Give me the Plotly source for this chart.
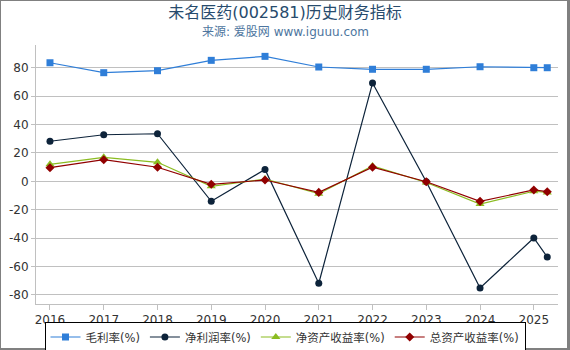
import plotly.graph_objects as go

years = [2016, 2017, 2018, 2019, 2020, 2021, 2022, 2023, 2024, 2025, 2025.25]
tick_years = [2016, 2017, 2018, 2019, 2020, 2021, 2022, 2023, 2024, 2025]
tick_labels = [str(y) for y in tick_years]
y_ticks = [-80, -60, -40, -20, 0, 20, 40, 60, 80]
y_tick_labels = ["-80", "-60", "-40", "-20", "0", "20", "40", "60", "80"]

gross_margin = [83.5, 76.5, 77.9, 85.2, 88.0, 80.5, 78.9, 78.9, 80.7, 80.0, 80.0]
net_margin = [28.2, 32.8, 33.5, -14.1, 8.4, -71.8, 69.2, -0.3, -75.1, -39.9, -53.3]
roe = [12.0, 16.9, 13.4, -3.5, 1.6, -8.7, 10.8, -0.8, -16.0, -7.0, -7.8]
roa = [9.6, 15.2, 9.9, -2.1, 0.9, -7.8, 9.9, -0.3, -14.1, -6.1, -7.3]

names = ["毛利率(%)", "净利润率(%)", "净资产收益率(%)", "总资产收益率(%)"]
colors = ["#2f7ed8", "#0d233a", "#8bbc21", "#910000"]
symbols = ["square", "circle", "triangle-up", "diamond"]
sizes = [7, 7, 8, 7]
series = [gross_margin, net_margin, roe, roa]

FONT = "DejaVu Sans, Noto Sans CJK SC, sans-serif"

fig = go.Figure()
for name, vals, c, s, sz in zip(names, series, colors, symbols, sizes):
    fig.add_trace(go.Scatter(
        x=years, y=vals, name=name, mode="lines+markers",
        line=dict(color=c, width=1.2),
        marker=dict(color=c, symbol=s, size=sz, line=dict(width=0)),
        hoverinfo="skip",
    ))

L, R, T, B = 36, 12, 45, 46
W, H = 570, 350
pw, ph = W - L - R, H - T - B

def px(x):
    return (x - L) / pw

def py(y):
    return (H - B - y) / ph

frame = "#808080"
shapes = [
    dict(type="line", xref="paper", yref="paper", x0=px(0.5), x1=px(0.5), y0=py(0), y1=py(350), line=dict(color=frame, width=1)),
    dict(type="line", xref="paper", yref="paper", x0=px(0), x1=px(570), y0=py(0.5), y1=py(0.5), line=dict(color=frame, width=1)),
    dict(type="line", xref="paper", yref="paper", x0=px(568.5), x1=px(568.5), y0=py(0), y1=py(350), line=dict(color=frame, width=3)),
    dict(type="line", xref="paper", yref="paper", x0=px(0), x1=px(570), y0=py(349), y1=py(349), line=dict(color=frame, width=2)),
]

fig.update_layout(
    width=W, height=H,
    margin=dict(l=L, r=R, t=T, b=B, pad=0, autoexpand=False),
    paper_bgcolor="white", plot_bgcolor="white",
    font=dict(family=FONT, size=12, color="#333333"),
    title=dict(
        text="未名医药(002581)历史财务指标",
        x=0.5, xref="container", xanchor="center",
        y=1 - 12.5 / H, yref="container", yanchor="middle",
        font=dict(size=16, color="#274b6d", family=FONT),
    ),
    annotations=[dict(
        text="来源: 爱股网 www.iguuu.com", xref="paper", yref="paper",
        x=px(285), y=py(31.5), xanchor="center", yanchor="middle", showarrow=False,
        font=dict(size=12, color="#4d759e", family=FONT),
    )],
    xaxis=dict(
        range=[2015.74, 2025.45], tickmode="array", tickvals=tick_years, ticktext=tick_labels,
        showgrid=False, zeroline=False, showline=True, linecolor="#c0c0c0", linewidth=1,
        ticks="outside", ticklen=5, tickcolor="#c0c0c0", tickfont=dict(size=12, color="#333333"),
        automargin=False,
    ),
    yaxis=dict(
        range=[-86.4, 96], tickmode="array", tickvals=y_ticks, ticktext=y_tick_labels,
        showgrid=True, gridcolor="#c0c0c0", gridwidth=1, zeroline=False,
        showline=True, linecolor="#c0c0c0", linewidth=1,
        ticks="outside", ticklen=4, tickcolor="#c0c0c0", tickfont=dict(size=12, color="#333333"),
        automargin=False,
    ),
    legend=dict(
        orientation="h", x=0.5, xref="container", xanchor="center",
        y=1 - 321.5 / H, yref="container", yanchor="top",
        bordercolor="#000000", borderwidth=1, font=dict(size=11.5, color="#333333"),
        itemwidth=30, tracegroupgap=0, itemclick=False,
    ),
    shapes=shapes,
    showlegend=True,
)

fig.write_html("out.html")
